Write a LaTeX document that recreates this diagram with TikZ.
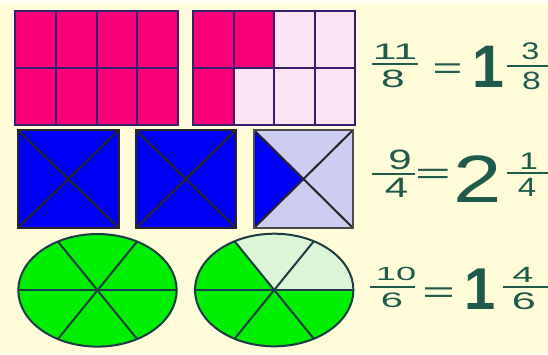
\documentclass[tikz,border=0pt]{standalone}
\usepackage{fontspec}
\usepackage{graphicx}
\setmainfont{Liberation Sans}
\definecolor{bg}{HTML}{FFFDD9}
\definecolor{bgtop}{HTML}{FFFFF0}
\definecolor{mag}{HTML}{FA0078}
\definecolor{pinklt}{HTML}{FCE4F4}
\definecolor{gridc}{HTML}{3A1E6E}
\definecolor{blu}{HTML}{0000F5}
\definecolor{lav}{HTML}{CDCDF2}
\definecolor{grn}{HTML}{00EE00}
\definecolor{grnlt}{HTML}{DBF5D6}
\definecolor{grnline}{HTML}{1C3C44}
\definecolor{txt}{HTML}{1F5A4C}
\newcommand\stxt[3]{\scalebox{#1}[1]{\fontsize{#2}{#2}\selectfont #3}}
\begin{document}
\begin{tikzpicture}[x=1pt,y=-1pt,
  gline/.style={draw=gridc,line width=2pt},
  bline/.style={draw=black!85,line width=2pt},
  eline/.style={draw=grnline,line width=2pt},
  num/.style={inner sep=0pt,text=txt},
  big/.style={inner sep=0pt,text=txt},
  bigb/.style={inner sep=0pt,text=txt,font=\bfseries},
  fbar/.style={draw=txt,line width=2.3pt}]
\fill[bg] (0,0) rectangle (548,354);
\fill[bgtop] (0,0) rectangle (548,5);
\useasboundingbox (0,0) rectangle (548,354);
% ---- row 1: rectangles
\fill[mag] (15,11) rectangle (178,125);
\foreach \x in {55.75,96.5,137.25} \draw[gline] (\x,11) -- (\x,125);
\draw[gline] (15,68) -- (178,68);
\draw[gline] (15,11) rectangle (178,125);
\fill[pinklt] (193,11) rectangle (355,125);
\fill[mag] (193,11) rectangle (274,68);
\fill[mag] (193,68) rectangle (233.5,125);
\foreach \x in {233.5,274,314.5} \draw[gline] (\x,11) -- (\x,125);
\draw[gline] (193,68) -- (355,68);
\draw[gline] (193,11) rectangle (355,125);
% ---- row 2: squares
\foreach \a/\b in {18/119,136/236}{
  \fill[blu] (\a,130) rectangle (\b,228);
  \draw[bline] (\a,130) -- (\b,228) (\a,228) -- (\b,130);
  \draw[bline] (\a,130) rectangle (\b,228);
}
\fill[lav] (254,130) rectangle (353,228);
\fill[blu] (254,130) -- (303.5,179) -- (254,228) -- cycle;
\draw[bline] (254,130) -- (353,228) (254,228) -- (353,130);
\draw[draw=black!70,line width=2pt] (254,130) rectangle (353,228);
% ---- row 3: ellipses
\coordinate (E1) at (97.5,290.3);
\coordinate (E2) at (274.2,290);
\fill[grn] (E1) ellipse [x radius=79.2, y radius=56.3];
\fill[grn] (E2) ellipse [x radius=79.2, y radius=56.3];
\fill[grnlt] (E2) -- ++(79.2,0) arc [start angle=0, end angle=-120, x radius=79.2, y radius=56.3] -- cycle;
\foreach \c in {E1,E2}{
  \foreach \t in {0,60,120}
    \draw[eline,shift={(\c)}] (\t:79.2 and 56.3) -- (\t+180:79.2 and 56.3);
  \draw[eline] (\c) ellipse [x radius=79.2, y radius=56.3];
}
% ---- texts row 1
\node[num] (n1) at (395,52) {\stxt{1.9}{22.5}{11}};
\draw[fbar] (372,64) -- (418,64);
\node[num] (d1) at (393,79) {\stxt{1.7}{25}{8}};
\node[num,anchor=base] (q1) at (447.5,78) {\stxt{1.7}{30}{=}};
\node[bigb] (w1) at (488.5,66.5) {\stxt{0.95}{60}{1}};
\node[num] (n1b) at (530.5,51.5) {\stxt{1.35}{24}{3}};
\draw[fbar] (507,66) -- (556,66);
\node[num] (d1b) at (531.5,80.5) {\stxt{1.35}{25}{8}};
% ---- texts row 2
\node[num] (n2) at (400,160) {\stxt{1.5}{28}{9}};
\draw[fbar] (372,174) -- (415,174);
\node[num] (d2) at (396.5,188) {\stxt{1.5}{28}{4}};
\node[num,anchor=base] (q2) at (433,183.6) {\stxt{2.1}{29}{=}};
\node[big] (w2) at (477.5,179) {\stxt{1.3}{67}{2}};
\node[num] (n2b) at (528.6,161.5) {\stxt{1.4}{24}{1}};
\draw[fbar] (507,173) -- (556,173);
\node[num] (d2b) at (527,187.5) {\stxt{1.25}{26.5}{4}};
% ---- texts row 3
\node[num] (n3) at (396,273.5) {\stxt{1.9}{19}{10}};
\draw[fbar] (370,287) -- (415,287);
\node[num] (d3) at (392,300.5) {\stxt{1.9}{21}{6}};
\node[num,anchor=base] (q3) at (438.5,302.5) {\stxt{1.85}{30}{=}};
\node[bigb] (w3) at (480,289) {\stxt{0.95}{59}{1}};
\node[num] (n3b) at (523,275) {\stxt{1.7}{22}{4}};
\draw[fbar] (503,287) -- (556,287);
\node[num] (d3b) at (524,301.5) {\stxt{1.8}{24}{6}};
\end{tikzpicture}
\end{document}
